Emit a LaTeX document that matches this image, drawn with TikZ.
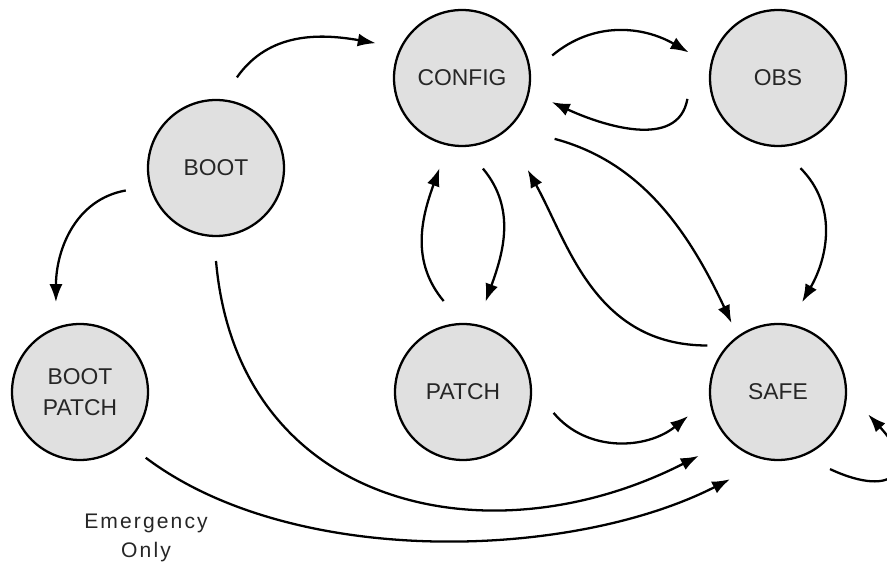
\documentclass[tikz,border=0pt]{standalone}
\usepackage{fontspec}
\setmainfont{Liberation Sans}
\usetikzlibrary{arrows.meta}
\begin{document}
\begin{tikzpicture}[x=0.02cm, y=-0.02cm, >={Latex[length=3.6mm,width=2.6mm]}, line width=1.3pt,
    state/.style={circle,draw,fill=black!12,minimum size=2.72cm,inner sep=0pt,outer sep=0.5cm,
        align=center,text=black!85,font=\fontsize{13}{17.5}\selectfont}]
    \useasboundingbox (0,0) rectangle (887,567);
    \clip (0,0) rectangle (887,567);
    \node[state] (boot) at (216,168) {BOOT};
    \node[state] (config) at (462,78) {CONFIG};
    \node[state] (obs) at (778,78) {OBS};
    \node[state] (bootpatch) at (80,392) {BOOT\\PATCH};
    \node[state] (patch) at (463,392) {PATCH};
    \node[state] (safe) at (778,392) {SAFE};
    \node[align=center,text=black!85,font=\fontsize{12}{17}\selectfont\addfontfeatures{LetterSpace=10}] (emerg) at (146,538) {Emergency\\Only};
    \draw[->](boot.77) to[out=55,in=170] (config.158);
    \draw[->](boot.194) to[out=190,in=90] (bootpatch.105);
    \draw[->](config.14) to[out=40,in=150] (obs.164);
    \draw[->](obs.193) to[out=260,in=-25] (config.345);
    \draw[->](config.283) to[out=-50,in=70] (patch.76);
    \draw[->](patch.102) to[out=130,in=250] (config.256);
    \draw[->,shorten <=0.38cm,shorten >=-0.2cm](config.323) to[out=-15,in=115] (safe.123);
    \draw[->,shorten <=-0.2cm,shorten >=0.4cm](safe.150) to[out=180,in=-61] (config.307);
    \draw[->](obs.284) to[out=-45,in=60] (safe.75);
    \draw[->](patch.347) to[out=-50,in=219] (safe.195);
    \draw[->,shorten >=0.18cm](boot.270) to[out=-85,in=207,looseness=1.2] (safe.220);
    \draw[->,shorten >=0.16cm](bootpatch.315) to[out=-37,in=207,looseness=0.8] (safe.244);
    % self loop, runs off the right edge
    \draw[->](safe.304) to[out=-25,in=-47,looseness=2.8] (safe.346);
\end{tikzpicture}
\end{document}
